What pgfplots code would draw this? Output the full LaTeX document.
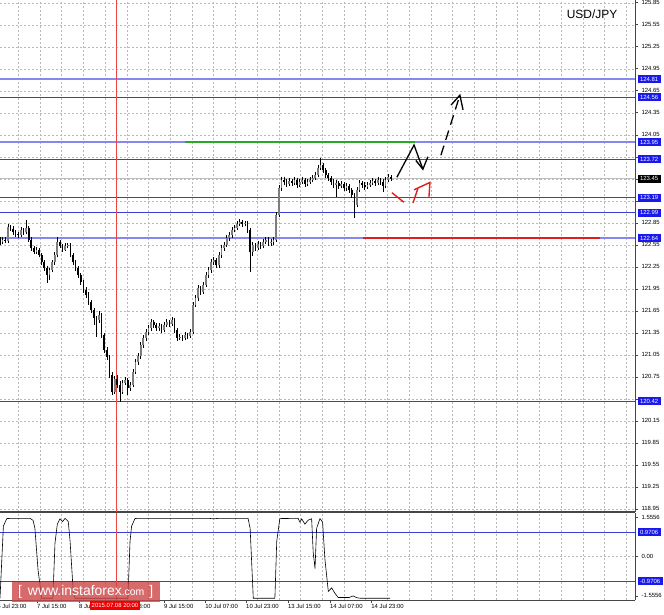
\documentclass[border=0pt]{standalone}
\usepackage{pgfplots}
\pgfplotsset{compat=1.18}
\usepackage{pgfplotstable}
\usepackage{fontspec}
\setmainfont{Liberation Sans}

\definecolor{lvl}{RGB}{60,60,215}
\definecolor{lvllight}{RGB}{135,135,240}
\definecolor{boxblue}{RGB}{25,25,235}
\definecolor{gridc}{RGB}{185,185,185}
\definecolor{grn}{RGB}{40,170,40}
\definecolor{redl}{RGB}{225,30,30}
\definecolor{cross}{RGB}{235,70,70}
\definecolor{wm}{RGB}{205,70,70}
\definecolor{frame}{RGB}{70,70,70}
\definecolor{bull}{RGB}{125,125,125}

\pgfplotstableread{
x o h l c
0 122.62 122.66 122.55 122.59
1 122.59 122.65 122.56 122.62
2 122.62 122.65 122.57 122.60
3 122.60 122.83 122.58 122.79
4 122.79 122.82 122.74 122.77
5 122.77 122.80 122.69 122.72
6 122.72 122.75 122.66 122.70
7 122.70 122.73 122.64 122.68
8 122.68 122.79 122.66 122.75
9 122.75 122.78 122.69 122.72
10 122.72 122.89 122.70 122.78
11 122.78 122.80 122.59 122.62
12 122.62 122.65 122.47 122.50
13 122.50 122.53 122.42 122.45
14 122.45 122.52 122.43 122.48
15 122.48 122.51 122.38 122.41
16 122.41 122.44 122.27 122.31
17 122.31 122.34 122.19 122.23
18 122.23 122.26 122.03 122.14
19 122.14 122.24 122.07 122.21
20 122.21 122.34 122.18 122.31
21 122.31 122.45 122.28 122.41
22 122.41 122.66 122.38 122.59
23 122.59 122.62 122.50 122.53
24 122.53 122.56 122.45 122.48
25 122.48 122.57 122.46 122.53
26 122.53 122.58 122.50 122.55
27 122.55 122.57 122.38 122.41
28 122.41 122.44 122.27 122.31
29 122.31 122.34 122.19 122.23
30 122.23 122.26 122.10 122.14
31 122.14 122.17 122.00 122.04
32 122.04 122.07 121.89 121.93
33 121.93 121.97 121.83 121.87
34 121.87 121.90 121.73 121.77
35 121.77 121.80 121.62 121.66
36 121.66 121.69 121.45 121.55
37 121.55 121.58 121.29 121.52
38 121.52 121.65 121.49 121.59
39 121.59 121.62 121.28 121.32
40 121.32 121.35 121.08 121.12
41 121.12 121.15 120.98 121.02
42 121.02 121.05 120.74 120.78
43 120.78 120.81 120.50 120.54
44 120.54 120.76 120.51 120.72
45 120.72 120.78 120.60 120.64
46 120.64 120.69 120.41 120.54
47 120.54 120.71 120.51 120.67
48 120.67 120.75 120.64 120.71
49 120.71 120.74 120.50 120.60
50 120.60 120.68 120.56 120.64
51 120.64 120.86 120.61 120.82
52 120.82 120.99 120.79 120.95
53 120.95 121.07 120.91 121.03
54 121.03 121.22 120.99 121.18
55 121.18 121.32 121.14 121.28
56 121.28 121.40 121.24 121.36
57 121.36 121.46 121.32 121.42
58 121.42 121.54 121.38 121.50
59 121.50 121.53 121.42 121.46
60 121.46 121.49 121.38 121.42
61 121.42 121.48 121.38 121.44
62 121.44 121.47 121.35 121.39
63 121.39 121.50 121.36 121.46
64 121.46 121.54 121.43 121.50
65 121.50 121.53 121.43 121.47
66 121.47 121.57 121.44 121.52
67 121.52 121.55 121.35 121.39
68 121.39 121.42 121.24 121.28
69 121.28 121.33 121.25 121.29
70 121.29 121.32 121.24 121.28
71 121.28 121.36 121.25 121.32
72 121.32 121.35 121.27 121.31
73 121.31 121.40 121.28 121.36
74 121.36 121.77 121.33 121.73
75 121.73 121.86 121.70 121.82
76 121.82 122.00 121.78 121.96
77 121.96 121.99 121.87 121.91
78 121.91 122.04 121.88 122.00
79 122.00 122.18 121.97 122.14
80 122.14 122.25 122.10 122.21
81 122.21 122.35 122.17 122.31
82 122.31 122.38 122.27 122.34
83 122.34 122.37 122.23 122.27
84 122.27 122.45 122.24 122.41
85 122.41 122.55 122.37 122.51
86 122.51 122.59 122.47 122.55
87 122.55 122.68 122.52 122.64
88 122.64 122.72 122.60 122.68
89 122.68 122.79 122.64 122.75
90 122.75 122.82 122.72 122.78
91 122.78 122.87 122.75 122.83
92 122.83 122.90 122.80 122.86
93 122.86 122.89 122.79 122.83
94 122.83 122.88 122.80 122.85
95 122.85 122.88 122.71 122.75
96 122.75 122.78 122.18 122.45
97 122.45 122.59 122.40 122.55
98 122.55 122.58 122.47 122.51
99 122.51 122.60 122.48 122.56
100 122.56 122.59 122.49 122.53
101 122.53 122.63 122.50 122.59
102 122.59 122.66 122.56 122.62
103 122.62 122.65 122.53 122.57
104 122.57 122.63 122.54 122.59
105 122.59 122.66 122.55 122.62
106 122.62 123.00 122.59 122.96
107 122.96 123.36 122.93 123.32
108 123.32 123.48 123.29 123.43
109 123.43 123.47 123.37 123.41
110 123.41 123.45 123.34 123.38
111 123.38 123.46 123.35 123.42
112 123.42 123.45 123.35 123.39
113 123.39 123.47 123.36 123.43
114 123.43 123.46 123.33 123.37
115 123.37 123.45 123.34 123.41
116 123.41 123.47 123.38 123.43
117 123.43 123.46 123.34 123.38
118 123.38 123.45 123.35 123.41
119 123.41 123.47 123.38 123.43
120 123.43 123.50 123.40 123.46
121 123.46 123.54 123.43 123.50
122 123.50 123.64 123.47 123.60
123 123.60 123.73 123.57 123.64
124 123.64 123.67 123.53 123.57
125 123.57 123.60 123.46 123.50
126 123.50 123.53 123.42 123.46
127 123.46 123.49 123.37 123.41
128 123.41 123.44 123.33 123.37
129 123.37 123.43 123.20 123.39
130 123.39 123.42 123.31 123.35
131 123.35 123.42 123.32 123.38
132 123.38 123.41 123.28 123.32
133 123.32 123.39 123.29 123.35
134 123.35 123.38 123.26 123.30
135 123.30 123.33 123.19 123.23
136 123.23 123.26 122.92 123.09
137 123.09 123.34 123.06 123.30
138 123.30 123.43 123.27 123.39
139 123.39 123.42 123.33 123.37
140 123.37 123.40 123.30 123.34
141 123.34 123.41 123.31 123.37
142 123.37 123.43 123.34 123.39
143 123.39 123.46 123.36 123.42
144 123.42 123.45 123.35 123.39
145 123.39 123.47 123.36 123.43
146 123.43 123.46 123.37 123.41
147 123.41 123.44 123.27 123.35
148 123.35 123.47 123.32 123.43
149 123.43 123.51 123.40 123.47
150 123.47 123.50 123.42 123.45
}\candles

\pgfplotstableread{
x v
0 -1.65
1.3 1.20
2.6 1.50
4.6 1.51
11.5 1.51
12.7 1.43
13.4 1.11
14.6 -0.53
16 -1.65
20.3 -1.65
21.1 0.53
22 1.28
23 1.49
24 1.38
25 1.51
26.2 1.38
26.9 0.60
28.1 -1.38
28.8 -1.65
49.1 -1.65
49.9 0.60
50.5 1.20
51.8 1.50
53 1.51
80 1.51
82 1.49
84 1.51
95.2 1.51
96 1.11
97.2 -1.65
105.5 -1.65
106.2 0.60
107.4 1.50
114.4 1.51
115.1 1.36
115.8 1.49
117 1.28
118.3 1.44
119.6 1.49
120.2 0.16
120.9 -0.48
121.5 1.11
122.8 1.50
123.8 1.36
124.7 -0.11
126 -1.38
127.3 -1.24
128.5 -1.45
129.8 -1.62
134 -1.62
135.5 -1.56
137 -1.63
138.2 -1.65
149.7 -1.65
}\osc

\pgfplotsset{
  common/.style={
    scale only axis, width=635bp, xmin=0, xmax=243.7,
    axis x line*=bottom, axis y line*=right,
    axis line style={-},
    y axis line style={draw=frame, line width=0.8bp},
    xtick={7,15.3333,...,241}, xticklabels={}, xtick style={draw=none},
    xmajorgrids,
    grid style={gridc, dash pattern=on 2bp off 2bp, line width=0.4bp},
    tick align=outside, major tick length=3bp,
    ytick style={draw=frame, line width=0.5bp},
    yticklabel style={font=\fontsize{6}{7}\selectfont, text=black},
    clip mode=individual,
  },
}
\tikzset{
  lvlbox/.style={anchor=west, fill=boxblue, text=white, font=\fontsize{6}{7}\selectfont,
    inner xsep=2.3bp, inner ysep=0bp, minimum height=8bp, xshift=2.5bp},
}

\begin{document}
\begin{tikzpicture}
\path[use as bounding box] (0bp,0bp) rectangle (664bp,-615bp);
\fill[white] (0bp,0bp) rectangle (664bp,-615bp);

% ---------------- main price panel ----------------
\begin{axis}[common,
  at={(0bp,0bp)}, anchor=north west, height=512bp,
  ymin=118.907, ymax=125.887,
  ytick={118.95,119.25,119.55,119.85,120.15,120.45,120.75,121.05,121.35,121.65,121.95,122.25,122.55,122.85,123.15,123.45,123.75,124.05,124.35,124.65,124.95,125.25,125.55,125.85},
  yticklabels={118.95,119.25,119.55,119.85,120.15,,120.75,121.05,121.35,121.65,121.95,122.25,122.55,122.85,123.15,,,124.05,124.35,124.65,124.95,125.25,125.55,125.85},
  ymajorgrids,
  x axis line style={draw=frame, line width=1.8bp},
]
% level lines
\addplot[lvllight, line width=1.4bp] coordinates {(0,124.81) (243.7,124.81)};
\addplot[lvl, line width=0.9bp] coordinates {(0,124.56) (243.7,124.56)};
\addplot[lvllight, line width=1.4bp] coordinates {(0,123.95) (243.7,123.95)};
\addplot[lvl, line width=0.9bp] coordinates {(0,123.72) (243.7,123.72)};
\addplot[gray!50, line width=0.8bp] coordinates {(0,123.45) (243.7,123.45)};
\addplot[lvl, line width=0.9bp] coordinates {(0,123.19) (243.7,123.19)};
\addplot[lvl, line width=0.9bp] coordinates {(0,122.99) (243.7,122.99)};
\addplot[lvllight, line width=1.4bp] coordinates {(0,122.64) (243.7,122.64)};
\addplot[lvl, line width=0.9bp] coordinates {(0,120.42) (243.7,120.42)};
% crosshair
\draw[cross, line width=0.7bp] (axis cs:44.5,118.907) -- (axis cs:44.5,125.887);
% wicks
\addplot[black, line width=0.6bp, -, quiver={u=0, v=\thisrow{h}-\thisrow{l}}]
  table[x=x, y=l] {\candles};
% bearish bodies
\addplot[black, line width=1.7bp, -, restrict expr to domain={\thisrow{o}-\thisrow{c}}{0.00001:100},
  quiver={u=0, v=\thisrow{o}-\thisrow{c}}]
  table[x=x, y=c] {\candles};
% bullish bodies
\addplot[bull, line width=1.7bp, -, restrict expr to domain={\thisrow{c}-\thisrow{o}}{0:100},
  quiver={u=0, v=\thisrow{c}-\thisrow{o}}]
  table[x=x, y=o] {\candles};
% drawn levels
\addplot[grn, line width=2bp] coordinates {(71.0,123.95) (159.2,123.95)};
\addplot[redl, line width=2bp] coordinates {(139.3,122.64) (230.2,122.64)};
% black forecast
\addplot[black, line width=1.3bp] coordinates {(152.3,123.47) (158.9,123.91) (162.3,123.58)};
\addplot[black, line width=1.3bp] coordinates {(159.6,123.70) (162.3,123.58) (164.2,123.75)};
\addplot[black, line width=1.3bp, dash pattern=on 10bp off 6bp] coordinates {(169.2,123.77) (176.5,124.59)};
\addplot[black, line width=1.3bp] coordinates {(173.1,124.455) (176.5,124.59) (177.7,124.39)};
% red forecast
\addplot[redl, line width=1.4bp] coordinates {(150.4,123.26) (155.0,123.13)};
\addplot[redl, line width=1.4bp] coordinates {(158.5,123.12) (160.4,123.32)};
\addplot[redl, line width=1.4bp] coordinates {(158.9,123.30) (165.0,123.40) (164.6,123.19)};
\coordinate (B1) at (axis cs:243.7,124.81);
\coordinate (B2) at (axis cs:243.7,124.56);
\coordinate (B3) at (axis cs:243.7,123.95);
\coordinate (B4) at (axis cs:243.7,123.72);
\coordinate (B5) at (axis cs:243.7,123.45);
\coordinate (B6) at (axis cs:243.7,123.19);
\coordinate (B7) at (axis cs:243.7,122.99);
\coordinate (B8) at (axis cs:243.7,122.64);
\coordinate (B9) at (axis cs:243.7,120.42);
\end{axis}

% ---------------- indicator panel ----------------
\begin{axis}[common,
  at={(0bp,-513bp)}, anchor=north west, height=87bp,
  ymin=-1.72, ymax=1.72,
  ytick={-1.5556,0,1.5556}, yticklabels={-1.5556,0.00,1.5556},
  x axis line style={draw=frame, line width=1bp},
  extra x ticks={14.2,30.3,46.4,62.9,78.7,94.4,110.5,126.6,142.4},
  extra x tick labels={7 Jul 15:00,8 Jul 07:00,8 Jul 23:00,9 Jul 15:00,10 Jul 07:00,10 Jul 23:00,13 Jul 15:00,14 Jul 07:00,14 Jul 23:00},
  extra x tick style={grid=none, xtick style={draw=frame, line width=0.5bp},
    xticklabel style={anchor=north west, font=\fontsize{6}{7}\selectfont, xshift=-1bp, inner sep=1bp}},
]
\addplot[gridc, dash pattern=on 2bp off 2bp, line width=0.4bp] coordinates {(0,0) (243.7,0)};
\addplot[lvl, line width=0.9bp] coordinates {(0,0.9706) (243.7,0.9706)};
\addplot[lvl, line width=0.9bp] coordinates {(0,-0.9706) (243.7,-0.9706)};
\draw[cross, line width=0.7bp] (axis cs:44.5,-1.72) -- (axis cs:44.5,1.72);
\addplot[black, line width=0.6bp] table[x=x, y=v] {\osc};
\node[anchor=north west, font=\fontsize{6}{7}\selectfont, inner sep=1bp, yshift=-3bp] at (axis cs:-1.5,-1.72) {6 Jul 23:00};
\coordinate (C1) at (axis cs:243.7,0.9706);
\coordinate (C2) at (axis cs:243.7,-0.9706);
\end{axis}

% level boxes
\node[lvlbox] at (B1) {124.81};
\node[lvlbox] at (B2) {124.56};
\node[lvlbox] at (B3) {123.95};
\node[lvlbox] at (B4) {123.72};
\node[lvlbox, fill=black] at (B5) {123.45};
\node[lvlbox] at (B6) {123.19};
\node[lvlbox] at (B7) {122.99};
\node[lvlbox] at (B8) {122.64};
\node[lvlbox] at (B9) {120.42};
\node[lvlbox] at (C1) {0.9706};
\node[lvlbox] at (C2) {-0.9706};

% title
\node[font=\fontsize{12}{14}\selectfont] at (592bp,-14bp) {USD/JPY};

% watermark
\node[fill=wm, fill opacity=0.8, text opacity=1, text=white, minimum width=148bp,
  minimum height=20bp, inner sep=0bp, anchor=west] at (11.5bp,-592bp)
  {{\fontsize{14}{15}\selectfont [\hspace{6bp}www.instaforex}{\fontsize{10.5}{12}\selectfont .com}{\fontsize{14}{15}\selectfont\hspace{5bp}]}};

% date label
\node[fill={rgb,255:red,240;green,0;blue,0}, text=white, font=\fontsize{6}{7}\selectfont,
  inner xsep=2bp, inner ysep=0.5bp, minimum height=8.5bp] at (115bp,-605.5bp) {2015.07.08 20:00};
\end{tikzpicture}
\end{document}
